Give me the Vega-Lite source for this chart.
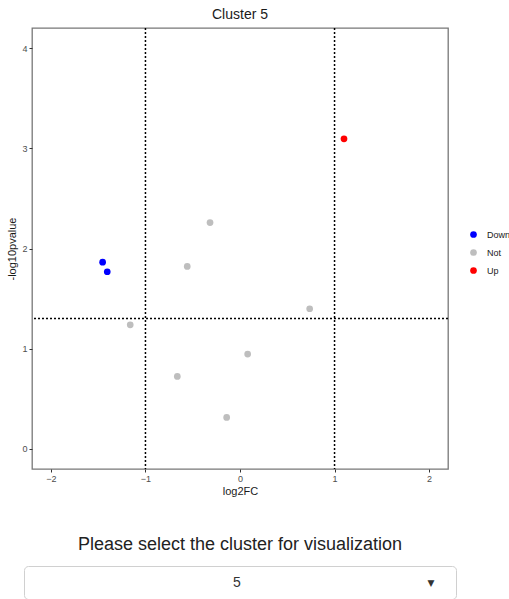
{
  "$schema": "https://vega.github.io/schema/vega-lite/v6.json",
  "padding": {"left": 6, "top": 7, "right": 0, "bottom": 1},
  "config": {
    "font": "Liberation Sans",
    "background": "white"
  },
  "datasets": {
    "genes": [
      {"log2FC": -1.453, "neglog10p": 1.864, "change": "Down"},
      {"log2FC": -1.404, "neglog10p": 1.768, "change": "Down"},
      {"log2FC": -0.317, "neglog10p": 2.259, "change": "Not"},
      {"log2FC": -0.558, "neglog10p": 1.821, "change": "Not"},
      {"log2FC": 0.737, "neglog10p": 1.399, "change": "Not"},
      {"log2FC": -1.161, "neglog10p": 1.239, "change": "Not"},
      {"log2FC": 0.081, "neglog10p": 0.947, "change": "Not"},
      {"log2FC": -0.663, "neglog10p": 0.724, "change": "Not"},
      {"log2FC": -0.141, "neglog10p": 0.315, "change": "Not"},
      {"log2FC": 1.1, "neglog10p": 3.094, "change": "Up"}
    ],
    "fcCut": [{"fc": -1}, {"fc": 1}],
    "pCut": [{"p": 1.30103}],
    "selection": [{"cluster": "5"}]
  },
  "vconcat": [
    {
      "title": {"text": "Cluster 5", "fontSize": 14, "fontWeight": "normal", "color": "#1a1a1a", "anchor": "middle", "offset": 5},
      "width": 416,
      "height": 441,
      "view": {"stroke": "#777", "strokeWidth": 1.3},
      "layer": [
        {
          "data": {"name": "genes"},
          "mark": {"type": "point", "filled": true, "opacity": 1, "size": 45},
          "encoding": {
            "x": {
              "field": "log2FC", "type": "quantitative",
              "scale": {"domain": [-2.2, 2.2], "nice": false, "zero": false},
              "axis": {"values": [-2, -1, 0, 1, 2], "format": "d", "grid": false, "domain": false, "tickColor": "#333", "tickSize": 3, "labelFontSize": 9, "labelColor": "#4d4d4d", "labelPadding": 2, "title": "log2FC", "titleFontSize": 11, "titleFontWeight": "normal", "titleColor": "#1a1a1a", "titlePadding": 2}
            },
            "y": {
              "field": "neglog10p", "type": "quantitative",
              "scale": {"domain": [-0.2, 4.2], "nice": false, "zero": false},
              "axis": {"values": [0, 1, 2, 3, 4], "format": "d", "grid": false, "domain": false, "tickColor": "#333", "tickSize": 3, "labelFontSize": 9, "labelColor": "#4d4d4d", "labelPadding": 2, "title": "-log10pvalue", "titleFontSize": 11, "titleFontWeight": "normal", "titleColor": "#1a1a1a", "titlePadding": 4}
            },
            "color": {
              "field": "change", "type": "nominal",
              "scale": {"domain": ["Down", "Not", "Up"], "range": ["#0000FF", "#BEBEBE", "#FF0000"]},
              "legend": {"title": null, "orient": "none", "legendX": 445, "legendY": 202, "symbolType": "circle", "symbolSize": 45, "labelFontSize": 9, "labelColor": "#1a1a1a", "rowPadding": 8, "labelOffset": 9}
            }
          }
        },
        {
          "data": {"name": "fcCut"},
          "mark": {"type": "rule", "color": "black", "strokeDash": [2, 2], "strokeWidth": 1.5},
          "encoding": {"x": {"field": "fc", "type": "quantitative"}}
        },
        {
          "data": {"name": "pCut"},
          "mark": {"type": "rule", "color": "black", "strokeDash": [2, 2], "strokeWidth": 1.5},
          "encoding": {"y": {"field": "p", "type": "quantitative"}}
        }
      ]
    },
    {
      "title": {"text": "Please select the cluster for visualization", "fontSize": 18, "fontWeight": "normal", "color": "#222", "anchor": "middle", "baseline": "bottom", "offset": -6},
      "width": 432,
      "height": 33,
      "view": {"stroke": "#d0d0d0", "strokeWidth": 1, "cornerRadius": 4, "fill": "white"},
      "data": {"name": "selection"},
      "layer": [
        {
          "mark": {"type": "text", "fontSize": 14, "color": "#333", "dx": -3},
          "encoding": {"text": {"field": "cluster", "type": "nominal"}}
        },
        {
          "mark": {"type": "text", "text": "▼", "fontSize": 9, "color": "#333", "dx": 191, "font": "DejaVu Sans", "scaleX": 1.3},
          "encoding": {}
        }
      ]
    }
  ],
  "spacing": 97,
  "bounds": "flush",
  "center": true
}
